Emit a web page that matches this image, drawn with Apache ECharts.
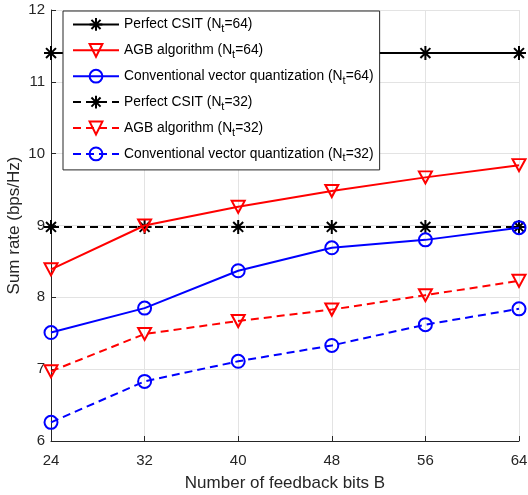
<!DOCTYPE html>
<html>
<head>
<meta charset="utf-8">
<script src="https://cdn.jsdelivr.net/npm/echarts@6/dist/echarts.min.js"></script>
<style>
  html, body { margin: 0; padding: 0; background: #fff; }
  #chart { width: 528px; height: 495px; }
</style>
</head>
<body>
<div id="chart"></div>
<script>
// feedback bits on the x axis
const bits = [24, 32, 40, 48, 56, 64];

// sum rate (bps/Hz)
const csit64 = [11.4, 11.4, 11.4, 11.4, 11.4, 11.4];
const agb64 = [8.39, 9.0, 9.26, 9.48, 9.67, 9.84];
const cvq64 = [7.51, 7.85, 8.37, 8.69, 8.80, 8.97];
const csit32 = [8.98, 8.98, 8.98, 8.98, 8.98, 8.98];
const agb32 = [6.97, 7.49, 7.67, 7.83, 8.03, 8.23];
const cvq32 = [6.26, 6.83, 7.11, 7.33, 7.62, 7.84];

const legendNames = [
  'Perfect CSIT (N_t=64)',
  'AGB algorithm (N_t=64)',
  'Conventional vector quantization (N_t=64)',
  'Perfect CSIT (N_t=32)',
  'AGB algorithm (N_t=32)',
  'Conventional vector quantization (N_t=32)'
];

const FONT = '"Liberation Sans", Arial, Helvetica, sans-serif';
const STAR = 'path://M0,-10L0,10M-10,0L10,0M-7.1,-7.1L7.1,7.1M-7.1,7.1L7.1,-7.1';
const TRI = 'path://M-6,-5L6,-5L0,6Z';

function pairs(vals) {
  return vals.map((v, i) => [bits[i], v]);
}

function makeSeries(name, vals, color, symbol, size, dashed) {
  return {
    name: name,
    type: 'line',
    data: pairs(vals),
    symbol: symbol,
    symbolSize: size,
    showAllSymbol: true,
    lineStyle: { color: color, width: 2, type: dashed ? [8, 5] : 'solid' },
    itemStyle: { color: 'rgba(0,0,0,0)', borderColor: color, borderWidth: 2 },
    emphasis: { disabled: true },
    z: dashed ? 2 : 3
  };
}

const chart = echarts.init(document.getElementById('chart'));

const option = {
  animation: false,
  backgroundColor: '#fff',
  grid: { left: 51, right: 9, top: 10, bottom: 54, outerBoundsMode: 'none', containLabel: false },
  legend: {
    orient: 'vertical',
    left: 63,
    top: 11,
    padding: [6, 6, 6, 9],
    itemWidth: 46,
    itemHeight: 16,
    itemGap: 8.5,
    backgroundColor: '#fff',
    borderColor: '#262626',
    borderWidth: 1,
    data: legendNames,
    formatter: function (name) {
      const parts = name.split('_t');
      return '{n|' + parts[0] + '}{s|t}{n|' + parts[1] + '}';
    },
    textStyle: {
      fontFamily: FONT,
      color: '#000',
      rich: {
        n: { fontSize: 13.8, fontFamily: FONT, color: '#000', lineHeight: 20 },
        s: { fontSize: 11, fontFamily: FONT, color: '#000', lineHeight: 10, verticalAlign: 'bottom' }
      }
    }
  },
  xAxis: {
    type: 'value',
    min: 24,
    max: 64,
    interval: 8,
    name: 'Number of feedback bits B',
    nameLocation: 'middle',
    nameGap: 34,
    nameMoveOverlap: false,
    nameTextStyle: { fontFamily: FONT, fontSize: 17, color: '#262626' },
    axisLine: { lineStyle: { color: '#262626', width: 1 } },
    axisTick: { inside: true, length: 5, lineStyle: { color: '#262626' } },
    axisLabel: { fontFamily: FONT, fontSize: 15, color: '#262626', margin: 12 },
    splitLine: { show: true, lineStyle: { color: '#e3e3e3', width: 1 } }
  },
  yAxis: {
    type: 'value',
    min: 6,
    max: 12,
    interval: 1,
    name: 'Sum rate (bps/Hz)',
    nameLocation: 'middle',
    nameGap: 28,
    nameMoveOverlap: false,
    nameTextStyle: { fontFamily: FONT, fontSize: 17, color: '#262626' },
    axisLine: { show: true, lineStyle: { color: '#262626', width: 1 } },
    axisTick: { show: true, inside: true, length: 5, lineStyle: { color: '#262626' } },
    axisLabel: { fontFamily: FONT, fontSize: 15, color: '#262626', margin: 6 },
    splitLine: { show: true, lineStyle: { color: '#e3e3e3', width: 1 } }
  },
  series: [
    makeSeries(legendNames[0], csit64, '#000', STAR, 14, false),
    makeSeries(legendNames[1], agb64, '#ff0000', TRI, [13, 12], false),
    makeSeries(legendNames[2], cvq64, '#0000ff', 'circle', 13, false),
    makeSeries(legendNames[3], csit32, '#000', STAR, 14, true),
    makeSeries(legendNames[4], agb32, '#ff0000', TRI, [13, 12], true),
    makeSeries(legendNames[5], cvq32, '#0000ff', 'circle', 13, true)
  ]
};

chart.setOption(option);
</script>
</body>
</html>
